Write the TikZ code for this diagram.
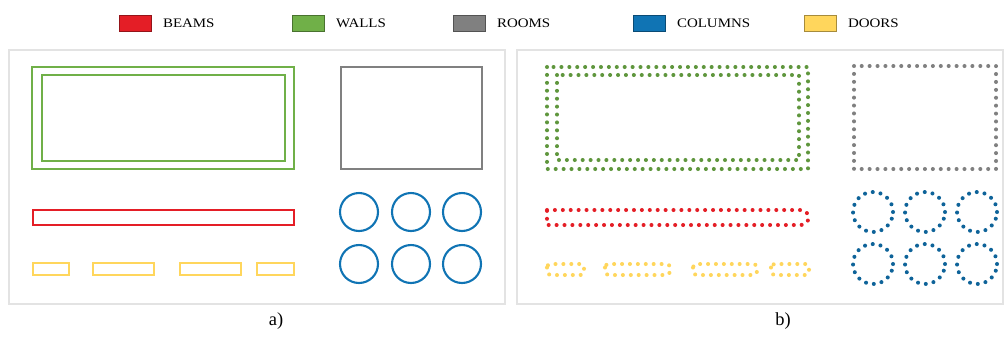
\documentclass[tikz,border=0pt]{standalone}
\usepackage{fontspec}
\setmainfont{Liberation Serif}
\newfontfamily\legendfont[FakeStretch=1.15]{Liberation Serif}
\usetikzlibrary{positioning}
\definecolor{beamred}{RGB}{228,30,38}
\definecolor{wallgreen}{RGB}{112,176,72}
\definecolor{roomgray}{RGB}{128,128,128}
\definecolor{colblue}{RGB}{16,116,180}
\definecolor{dooryellow}{RGB}{255,214,92}
\tikzset{
  solidline/.style={line width=1.2pt},
  dotline/.style={line width=2.3pt,line cap=round,dash pattern=on 0pt off 4.5pt},
  swatch/.style={draw=#1!65!black,fill=#1,minimum width=0.64cm,minimum height=0.32cm,inner sep=0pt},
  legtext/.style={font=\legendfont\fontsize{7.4}{8}\selectfont,inner sep=0pt},
  panel/.style={draw=gray!22,line width=0.6pt},
  sublabel/.style={font=\fontsize{10.5}{12}\selectfont,inner sep=0pt}
}
\begin{document}
\begin{tikzpicture}[x=0.02cm,y=-0.02cm]
\useasboundingbox (0,0) rectangle (1007,336);
\foreach \c/\t/\x in {beamred/BEAMS/119,wallgreen/WALLS/292,roomgray/ROOMS/453,colblue/COLUMNS/633,dooryellow/DOORS/804}{
  \node[swatch=\c,anchor=west] (sw\t) at (\x,23) {};
  \node[legtext,right=0.22cm of sw\t] (lb\t) {\t};
}
% a) solid outlines
\begin{scope}
  \draw[panel] (9,50) rectangle (505,304);
  \draw[solidline,wallgreen] (32,67) rectangle (294,169);
  \draw[solidline,wallgreen] (42,75) rectangle (285,161);
  \draw[solidline,roomgray] (341,67) rectangle (482,169);
  \draw[solidline,beamred] (33,210) rectangle (294,225);
  \foreach \a/\b in {33/69,93/154,180/241,257/294} \draw[solidline,dooryellow] (\a,263) rectangle (\b,275);
  \foreach \x in {359,411,462} \foreach \y in {212,264} \draw[solidline,colblue] (\x,\y) circle[radius=0.38cm];
  \node[sublabel] (lbla) at (276,321) {a)};
\end{scope}
% b) dotted outlines
\begin{scope}
  \draw[panel] (517,50) rectangle (1003,304);
  \draw[dotline,wallgreen!85!black] (547,67) rectangle (808,169);
  \draw[dotline,wallgreen!85!black] (557,75) rectangle (799,160);
  \draw[dotline,roomgray] (854,66) rectangle (996,169);
  \draw[dotline,beamred] (547,210) -- (801,210) arc[start angle=90,end angle=-90,radius=0.15cm] -- (547,225) -- cycle;
  \foreach \a/\b in {547/584,605/670,693/757,771/809} \draw[dotline,dooryellow,rounded corners=2] (\a,264) rectangle (\b,275);
  \foreach \x in {873,925,977} \foreach \y in {212,264} \draw[dotline,colblue!85!black] (\x,\y) circle[radius=0.4cm];
  \node[sublabel] (lblb) at (783,321) {b)};
\end{scope}
\end{tikzpicture}
\end{document}
